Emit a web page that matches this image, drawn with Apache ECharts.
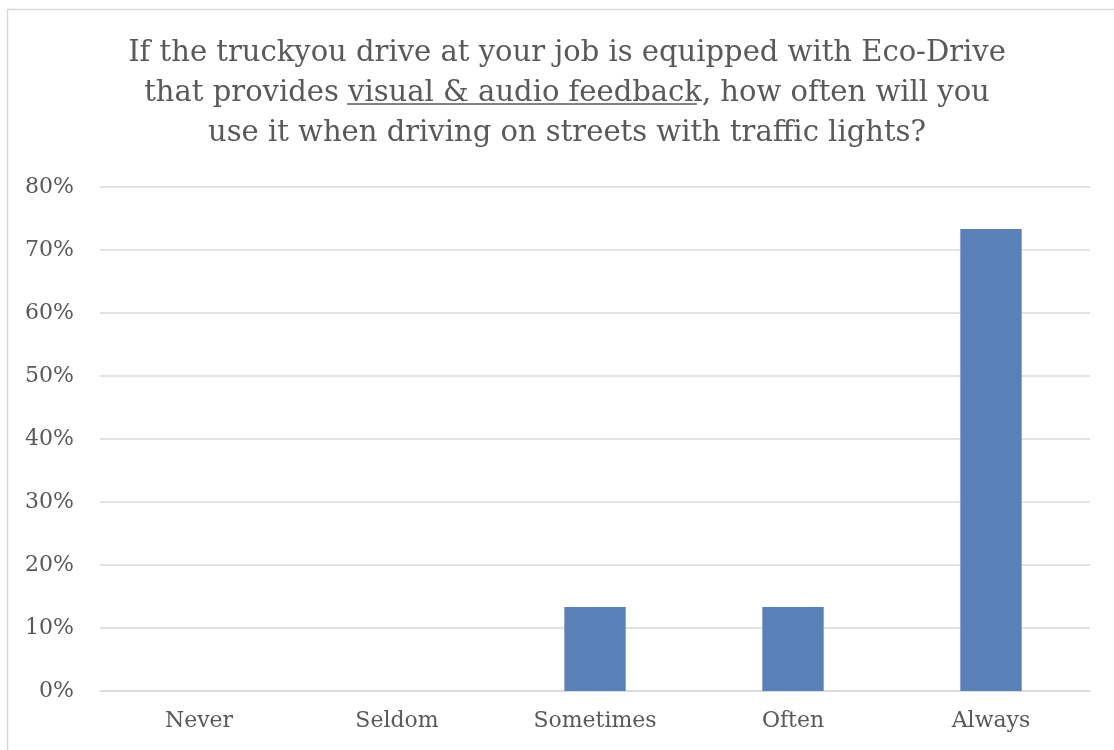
<!DOCTYPE html>
<html>
<head>
<meta charset="utf-8">
<script src="https://cdn.jsdelivr.net/npm/echarts@6/dist/echarts.min.js"></script>
<style>
  html, body { margin: 0; padding: 0; background: #fff; }
  #chart { width: 1114px; height: 750px; }
</style>
</head>
<body>
<div id="chart"></div>
<script>
// survey answers, share of respondents
const categories = ["Never", "Seldom", "Sometimes", "Often", "Always"];
const shares = [0, 0, 0.1333, 0.1333, 0.7333];
const yTicks = [0, 0.1, 0.2, 0.3, 0.4, 0.5, 0.6, 0.7, 0.8];

const titleLine1 = "If the truckyou drive at your job is equipped with Eco-Drive";
const titleLine2a = "that provides ";
const titleLine2u = "visual & audio feedback";
const titleLine2b = ", how often will you";
const titleLine3 = "use it when driving on streets with traffic lights?";

const FONT = "'DejaVu Serif', 'Liberation Serif', serif";
const TITLE_SIZE = 29;
const TEXT_COLOR = "#595959";
const titleCenterX = 562;
const titleTop = 28;
const titleLineH = 40;

// work out where the underline goes
const ctx = document.createElement("canvas").getContext("2d");
ctx.font = TITLE_SIZE + "px " + FONT;
const wA = ctx.measureText(titleLine2a).width;
const wU = ctx.measureText(titleLine2u).width;
const wB = ctx.measureText(titleLine2b).width;
const line2Start = titleCenterX - (wA + wU + wB) / 2;
const underlineY = titleTop + titleLineH * 1.5 + 16;

const chart = echarts.init(document.getElementById("chart"));
chart.setOption({
  animation: false,
  textStyle: { fontFamily: FONT },
  title: {
    text: [titleLine1, titleLine2a + titleLine2u + titleLine2b, titleLine3].join("\n"),
    left: titleCenterX,
    top: titleTop,
    textAlign: "center",
    textStyle: {
      fontFamily: FONT,
      fontSize: TITLE_SIZE,
      fontWeight: "normal",
      color: TEXT_COLOR,
      lineHeight: titleLineH
    }
  },
  graphic: [
    {
      type: "rect",
      silent: true,
      shape: { x: 7.5, y: 9.5, width: 1300, height: 900 },
      style: { fill: "none", stroke: "#d9d9d9", lineWidth: 1.5 }
    },
    {
      type: "line",
      silent: true,
      shape: { x1: line2Start + wA + 4, y1: underlineY, x2: line2Start + wA + wU, y2: underlineY },
      style: { stroke: TEXT_COLOR, lineWidth: 1.5 }
    }
  ],
  grid: { left: 100, right: 24, top: 187, bottom: 59 },
  xAxis: {
    type: "category",
    data: categories,
    axisTick: { show: false },
    axisLine: { lineStyle: { color: "#d9d9d9", width: 1.5 } },
    axisLabel: { color: TEXT_COLOR, fontSize: 22, margin: 19, fontFamily: FONT }
  },
  yAxis: {
    type: "value",
    min: yTicks[0],
    max: yTicks[yTicks.length - 1],
    interval: 0.1,
    axisLine: { show: false },
    axisTick: { show: false },
    splitLine: { lineStyle: { color: "#d9d9d9", width: 1.5 } },
    axisLabel: {
      color: TEXT_COLOR,
      fontSize: 22,
      margin: 26,
      fontFamily: FONT,
      formatter: v => Math.round(v * 100) + "%"
    }
  },
  series: [
    {
      type: "bar",
      data: shares,
      barWidth: "31%",
      itemStyle: { color: "#5981b8" }
    }
  ]
});
</script>
</body>
</html>
